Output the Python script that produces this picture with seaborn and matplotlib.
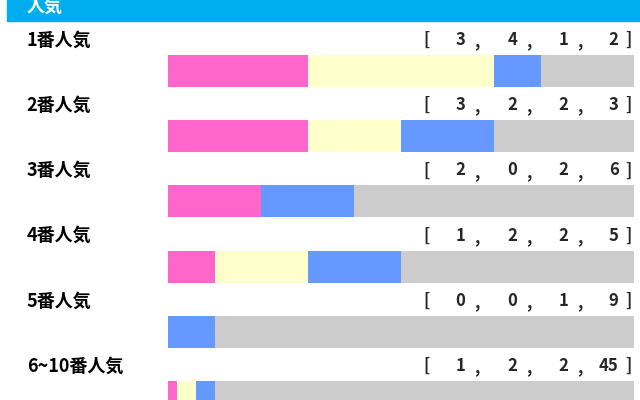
import seaborn as sns
import matplotlib.pyplot as plt
import pandas as pd
import numpy as np

# 人気別成績 [1着, 2着, 3着, 着外]
rows = ['1番人気', '2番人気', '3番人気', '4番人気', '5番人気', '6~10番人気']
first = [3, 3, 2, 1, 0, 1]
second = [4, 2, 0, 2, 0, 2]
third = [1, 2, 2, 2, 1, 2]
other = [2, 3, 6, 5, 9, 45]
header = '人気'

colors = ['#ff66cc', '#ffffcc', '#6699ff', '#cccccc']

sns.set_style('white')
plt.rcParams['font.family'] = ['Noto Sans CJK JP', 'DejaVu Sans']

counts = np.array([first, second, third, other], dtype=float)
props = counts / counts.sum(axis=0)
cum = props.cumsum(axis=0)

df = pd.DataFrame({'row': rows})
for i in range(4):
    df[f'c{i}'] = cum[i]

fig = plt.figure(figsize=(6.4, 4.0), dpi=100)
ax = fig.add_axes([0, 0, 1, 1])

# draw stacked segments from the back (total) to the front (1着)
for i in [3, 2, 1, 0]:
    sns.barplot(data=df, y='row', x=f'c{i}', order=rows, orient='h',
                color=colors[i], saturation=1, width=0.49, linewidth=0, ax=ax)

ax.set_xlim(-0.3605, 1.0129)
ax.set_ylim(5.046, -1.089)
ax.axis('off')

# header band
ax.add_patch(plt.Rectangle((-0.345, -1.089), 1.4, 0.322, color='#00aeef',
                           clip_on=False, zorder=5))
ax.text(-0.303, -0.99, header, color='white', fontsize=13, fontweight='bold',
        va='center', ha='left', zorder=6)

for i, r in enumerate(rows):
    y = i - 0.475
    ax.text(-0.303, y, r, fontsize=13, fontweight='bold', va='center', ha='left',
            color='black')
    ax.text(0.548, y, '[', fontsize=12, fontweight='bold', va='center', ha='left')
    vals = [first[i], second[i], third[i]]
    for j, v in enumerate(vals):
        xc = 0.628 + j * 0.1105
        ax.text(xc, y, str(v), fontsize=12, fontweight='bold', va='center', ha='center')
        ax.text(xc + 0.035, y + 0.02, ',', fontsize=12, fontweight='bold', va='center', ha='center')
    ax.text(0.967, y, str(other[i]), fontsize=12, fontweight='bold', va='center', ha='right')
    ax.text(0.989, y, ']', fontsize=12, fontweight='bold', va='center', ha='center')

fig.savefig('out.png', dpi=100)
